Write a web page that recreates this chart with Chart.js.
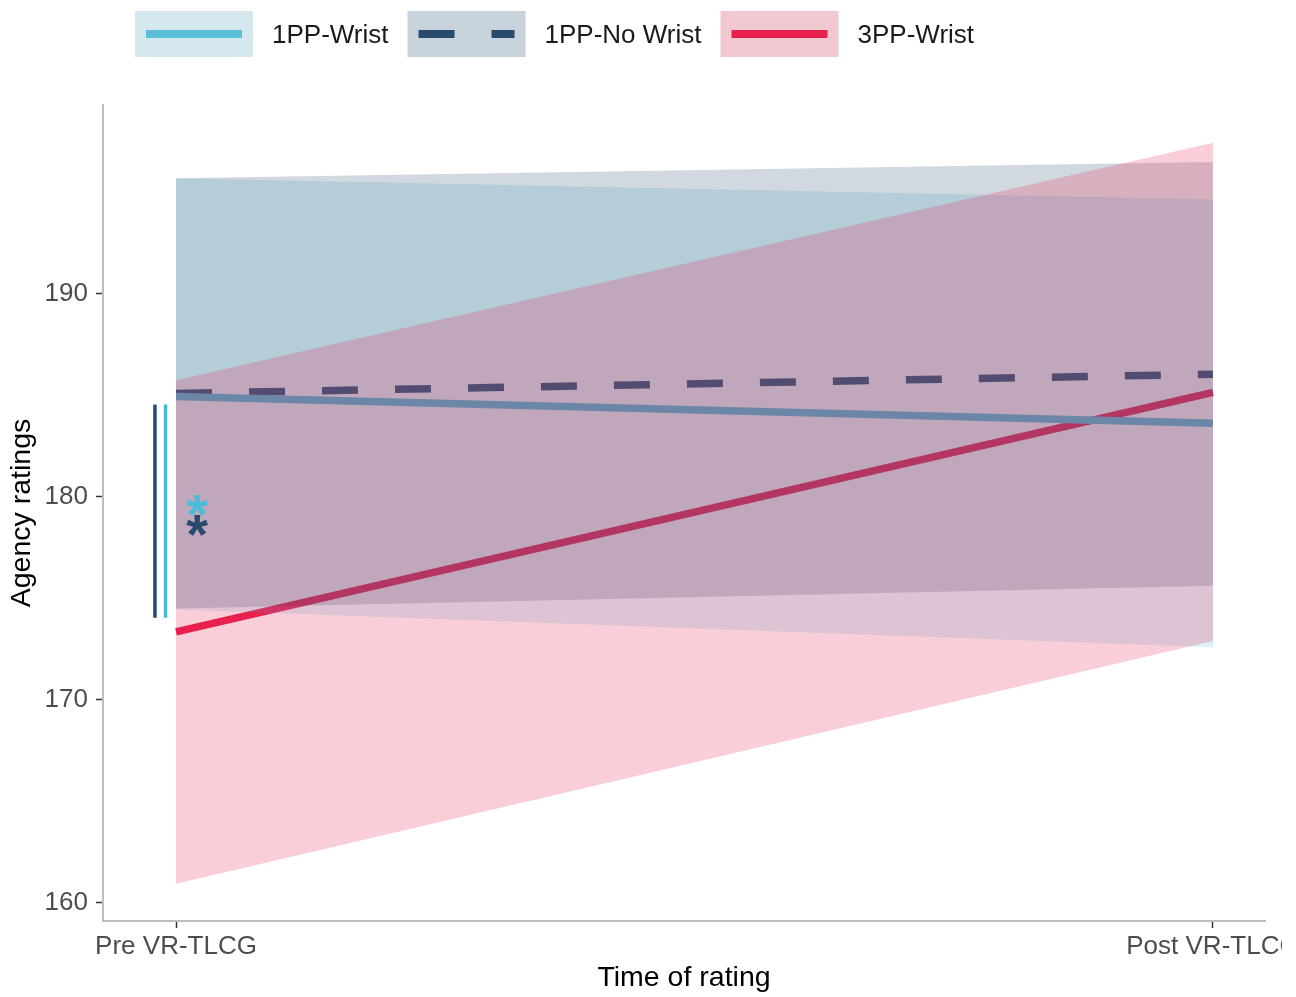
<!DOCTYPE html>
<html>
<head>
<meta charset="utf-8">
<title>Agency ratings over time</title>
<script src="https://cdn.jsdelivr.net/npm/chart.js@4.4.1/dist/chart.umd.min.js"></script>
<style>
  html, body { margin: 0; padding: 0; background: #ffffff; }
  #wrap { position: relative; width: 1282px; height: 997px; overflow: hidden; }
</style>
</head>
<body>
<div id="wrap"><canvas id="chart" width="1320" height="997"></canvas></div>
<script>
// ---- data ----
const timeLabels = ['Pre VR-TLCG', 'Post VR-TLCG'];
const timePos = [0, 1];
const seriesNames = ['1PP-Wrist', '1PP-No Wrist', '3PP-Wrist'];

const wristMean   = [184.95, 183.63];
const wristLow    = [174.45, 172.6];
const wristHigh   = [195.7, 194.65];

const noWristMean = [185.1, 186.05];
const noWristLow  = [174.5, 175.62];
const noWristHigh = [195.7, 196.5];

const thirdMean   = [173.35, 185.15];
const thirdLow    = [160.95, 172.9];
const thirdHigh   = [185.75, 197.45];

const yTicks = [160, 170, 180, 190];

// significance bracket and markers at the pre time point
const bracketSpan = [174.05, 184.55];
const starValues  = [179.6, 178.6];

// ---- styling ----
const FONT = "'Liberation Sans', Arial, Helvetica, sans-serif";
Chart.defaults.font.family = FONT;

const lineColors = ['#5bbfd7', '#264b6e', '#e8204e'];
const bandColors = ['rgba(70,185,215,0.20)', 'rgba(30,60,95,0.20)', 'rgba(230,30,80,0.22)'];
const keyColors  = ['#d4e8ee', '#c8d3dc', '#f1c7d1'];
const dashes     = [[], [36, 37], []];
// drawing order: lines first, then ribbons, 3PP ribbon last (on top)
const bandOrder  = [3, 2, 1];

const pts = vals => timePos.map((x, i) => ({ x: x, y: vals[i] }));

const means = [wristMean, noWristMean, thirdMean];
const lows  = [wristLow, noWristLow, thirdLow];
const highs = [wristHigh, noWristHigh, thirdHigh];

const datasets = [];
means.forEach((m, i) => {
  datasets.push({
    label: seriesNames[i],
    data: pts(m),
    borderColor: lineColors[i],
    borderWidth: 7.5,
    borderDash: dashes[i],
    borderCapStyle: 'butt',
    pointRadius: 0,
    fill: false,
    tension: 0,
    order: 5
  });
});
// ribbons: lower edge + upper edge filled down to it
lows.forEach((lo, i) => {
  datasets.push({
    label: seriesNames[i] + ' lower',
    data: pts(lo),
    borderColor: 'transparent',
    borderWidth: 0,
    pointRadius: 0,
    fill: false,
    order: bandOrder[i]
  });
  datasets.push({
    label: seriesNames[i] + ' upper',
    data: pts(highs[i]),
    borderColor: 'transparent',
    borderWidth: 0,
    pointRadius: 0,
    backgroundColor: bandColors[i],
    fill: '-1',
    order: bandOrder[i]
  });
});

// legend row drawn across the top margin
const topLegend = {
  id: 'topLegend',
  afterDraw(chart) {
    const ctx = chart.ctx;
    const boxW = 118, boxTop = 11, boxH = 46, midY = 34, gap = 19;
    let x = 135;
    ctx.save();
    ctx.font = '26px ' + FONT;
    ctx.textBaseline = 'middle';
    ctx.textAlign = 'left';
    seriesNames.forEach((name, i) => {
      ctx.fillStyle = keyColors[i];
      ctx.fillRect(x, boxTop, boxW, boxH);
      ctx.beginPath();
      ctx.setLineDash(dashes[i]);
      ctx.lineCap = 'butt';
      ctx.lineWidth = 8;
      ctx.strokeStyle = lineColors[i];
      ctx.moveTo(x + 11, midY);
      ctx.lineTo(x + boxW - 11, midY);
      ctx.stroke();
      ctx.setLineDash([]);
      const tx = x + boxW + gap;
      ctx.fillStyle = '#1a1a1a';
      ctx.fillText(name, tx, midY + 2);
      x = tx + ctx.measureText(name).width + gap;
    });
    ctx.restore();
  }
};

// bracket lines and asterisks marking the pre-point comparison
const significance = {
  id: 'significance',
  afterDatasetsDraw(chart) {
    const ctx = chart.ctx, xs = chart.scales.x, ys = chart.scales.y;
    const bars = [{ x: -0.0203, color: '#264b6e' }, { x: -0.0101, color: '#46b9d6' }];
    ctx.save();
    ctx.lineWidth = 3.5;
    bars.forEach(b => {
      const px = xs.getPixelForValue(b.x);
      ctx.beginPath();
      ctx.strokeStyle = b.color;
      ctx.moveTo(px, ys.getPixelForValue(bracketSpan[1]));
      ctx.lineTo(px, ys.getPixelForValue(bracketSpan[0]));
      ctx.stroke();
    });
    const starColors = ['#4dbcd8', '#264b6e'];
    ctx.font = 'bold 56px ' + FONT;
    ctx.textAlign = 'center';
    ctx.textBaseline = 'alphabetic';
    const m = ctx.measureText('*');
    const shift = (m.actualBoundingBoxAscent - m.actualBoundingBoxDescent) / 2;
    starValues.forEach((v, i) => {
      ctx.fillStyle = starColors[i];
      ctx.fillText('*', xs.getPixelForValue(0.0203), ys.getPixelForValue(v) + shift);
    });
    ctx.restore();
  }
};

new Chart(document.getElementById('chart'), {
  type: 'line',
  data: { datasets: datasets },
  options: {
    responsive: false,
    animation: false,
    devicePixelRatio: 1,
    layout: { autoPadding: false, padding: { top: 105, left: 0, right: 55, bottom: 0 } },
    plugins: {
      legend: { display: false },
      tooltip: { enabled: false },
      filler: { propagate: false }
    },
    scales: {
      x: {
        type: 'linear',
        min: -0.0704,
        max: 1.0502,
        afterBuildTicks: s => { s.ticks = timePos.map(v => ({ value: v })); },
        afterFit: s => { s.height = 76; },
        ticks: {
          callback: v => timeLabels[timePos.indexOf(v)],
          color: '#4d4d4d',
          font: { size: 26 },
          padding: 3,
          maxRotation: 0,
          autoSkip: false
        },
        grid: { display: true, drawOnChartArea: false, drawTicks: true, tickLength: 7, tickColor: '#333333', tickWidth: 1.5 },
        border: { display: true, color: '#bdbdbd', width: 2 },
        title: { display: true, text: 'Time of rating', color: '#000000', font: { size: 28.5 }, padding: { top: 0, bottom: 2 } }
      },
      y: {
        min: 159.11,
        max: 199.31,
        afterBuildTicks: s => { s.ticks = yTicks.map(v => ({ value: v })); },
        afterFit: s => { s.width = 103; },
        ticks: { color: '#4d4d4d', font: { size: 26 }, padding: 8 },
        grid: { display: true, drawOnChartArea: false, drawTicks: true, tickLength: 7, tickColor: '#333333', tickWidth: 1.5 },
        border: { display: true, color: '#bdbdbd', width: 2 },
        title: { display: true, text: 'Agency ratings', color: '#000000', font: { size: 28.5 }, padding: { top: 5, bottom: 0 } }
      }
    }
  },
  plugins: [topLegend, significance]
});
</script>
</body>
</html>
